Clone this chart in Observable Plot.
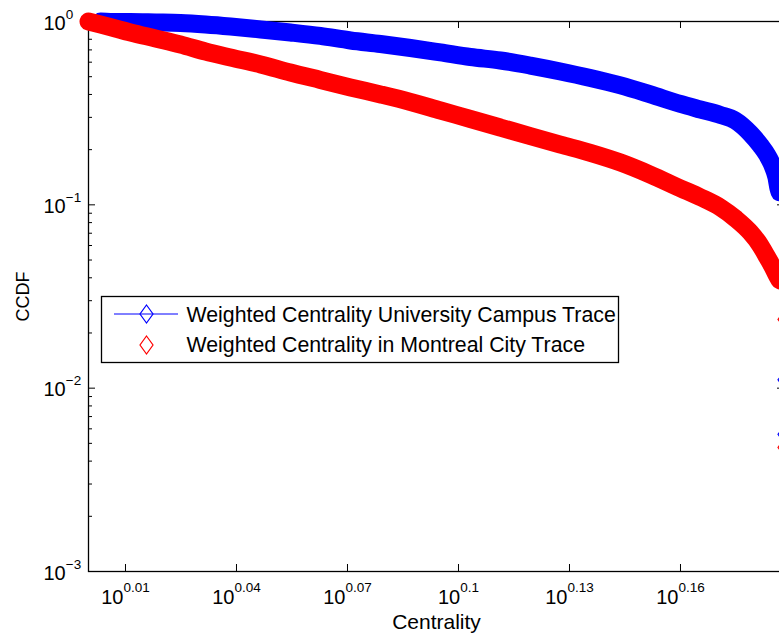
<!DOCTYPE html>
<html><head><meta charset="utf-8">
<script src="https://cdn.jsdelivr.net/npm/d3@7"></script>
<script src="https://cdn.jsdelivr.net/npm/@observablehq/plot@0.6"></script>
<style>
html,body{margin:0;padding:0;background:#fff;overflow:hidden;}
#chart{position:relative;width:779px;height:637px;overflow:hidden;}
#chart svg{max-width:none !important;}
</style></head><body><div id="chart"></div>
<script>
// Weighted Centrality – University Campus Trace (blue, line + diamonds)
const campusCentrality = [1.0075,1.0138,1.0265,1.0426,1.0589,1.0755,1.0924,1.1131,1.1339,1.1552,1.1771,1.1993,1.2219,1.2449,1.2683,1.2922,1.3165,1.3414,1.3666,1.3925,1.4187,1.4454,1.4635,1.4818,1.4957,1.5097,1.5192,1.5258,1.5306,1.5344,1.5363,1.5375];
const campusCCDF       = [1.0,0.994,0.994,0.988,0.981,0.963,0.939,0.905,0.871,0.834,0.788,0.754,0.717,0.678,0.640,0.613,0.575,0.534,0.492,0.448,0.400,0.355,0.331,0.309,0.288,0.245,0.211,0.186,0.164,0.141,0.123,0.117];
const campusTailCentrality = [1.5421, 1.5421];
const campusTailCCDF       = [0.0111, 0.0056];
// Weighted Centrality in Montreal City Trace (red, diamonds)
const montrealCentrality = [1.0,1.0075,1.0169,1.0265,1.0426,1.0589,1.0755,1.0924,1.1131,1.1339,1.1552,1.1771,1.1993,1.2219,1.2449,1.2683,1.2922,1.3165,1.3414,1.3666,1.3925,1.4187,1.4454,1.4635,1.4818,1.4957,1.5097,1.5192,1.5258,1.5306,1.5344,1.5375];
const montrealCCDF       = [1.0,0.963,0.916,0.871,0.808,0.749,0.686,0.636,0.583,0.527,0.480,0.437,0.400,0.364,0.327,0.294,0.264,0.237,0.213,0.192,0.170,0.146,0.123,0.110,0.0967,0.0842,0.0707,0.0600,0.0516,0.0461,0.0417,0.0387];
const montrealTailCentrality = [1.5421, 1.5421];
const montrealTailCCDF       = [0.0237, 0.00475];

const seriesNames = ["Weighted Centrality University Campus Trace", "Weighted Centrality in Montreal City Trace"];
const seriesColors = ["#0000ff", "#ff0000"];

// axis ticks
const xTickExponents = ["0.01","0.04","0.07","0.1","0.13","0.16"];
const yTickPowers = [0, -1, -2, -3];
const yMinorTicks = [0.002,0.003,0.004,0.005,0.006,0.007,0.008,0.009,0.02,0.03,0.04,0.05,0.06,0.07,0.08,0.09,0.2,0.3,0.4,0.5,0.6,0.7,0.8,0.9];
const xDomain = [1, 1.5421];
const yDomain = [0.001, 1];

const toRows = (xs, ys) => xs.map((x, i) => ({x, y: ys[i]}));
const campus = toRows(campusCentrality, campusCCDF);
const campusTail = toRows(campusTailCentrality, campusTailCCDF);
const montreal = toRows(montrealCentrality, montrealCCDF);
const montrealTail = toRows(montrealTailCentrality, montrealTailCCDF);

const diamond = {draw(ctx, size) {
  const r = Math.sqrt(size / Math.PI), w = r * 0.72;
  ctx.moveTo(0, -r); ctx.lineTo(w, 0); ctx.lineTo(0, r); ctx.lineTo(-w, 0); ctx.closePath();
}};

const xTickValues = xTickExponents.map(e => 10 ** (+e));
const yTickValues = yTickPowers.map(p => 10 ** p);
const FONT = "'Liberation Sans', Arial, Helvetica, sans-serif";
const FW = 696, FH = 550;

const chart = Plot.plot({
  width: 800, height: 637,
  marginLeft: 88, marginRight: 16, marginTop: 21, marginBottom: 66,
  x: {type: "log", domain: xDomain, axis: null},
  y: {type: "log", domain: yDomain, axis: null},
  style: {fontFamily: FONT, background: "white", color: "black", maxWidth: "none"},
  marks: [
    Plot.frame({stroke: "black", strokeWidth: 1.3}),
    Plot.tickX(xTickValues, {x: d => d, insetTop: FH - 7, stroke: "black", strokeWidth: 1}),
    Plot.tickX(xTickValues, {x: d => d, insetBottom: FH - 7, stroke: "black", strokeWidth: 1}),
    Plot.tickY(yTickValues, {y: d => d, insetRight: FW - 7, stroke: "black", strokeWidth: 1}),
    Plot.tickY(yTickValues, {y: d => d, insetLeft: FW - 7, stroke: "black", strokeWidth: 1}),
    Plot.tickY(yMinorTicks, {y: d => d, insetRight: FW - 4, stroke: "black", strokeWidth: 1}),
    Plot.tickY(yMinorTicks, {y: d => d, insetLeft: FW - 4, stroke: "black", strokeWidth: 1}),
    // campus series
    Plot.line(campus, {x: "x", y: "y", stroke: seriesColors[0], strokeWidth: 18, strokeLinejoin: "round", strokeLinecap: "round", curve: "monotone-x"}),
    Plot.dot(campus, {x: "x", y: "y", symbol: diamond, r: 8.6, fill: seriesColors[0], stroke: "none"}),
    Plot.line([campus[campus.length - 1], ...campusTail], {x: "x", y: "y", stroke: seriesColors[0], strokeWidth: 1}),
    Plot.dot(campusTail, {x: "x", y: "y", symbol: diamond, r: 9, fill: "none", stroke: seriesColors[0], strokeWidth: 1.2}),
    // montreal series
    Plot.line(montreal, {x: "x", y: "y", stroke: seriesColors[1], strokeWidth: 18, strokeLinejoin: "round", strokeLinecap: "round", curve: "monotone-x"}),
    Plot.dot(montreal, {x: "x", y: "y", symbol: diamond, r: 8.6, fill: seriesColors[1], stroke: "none"}),
    Plot.dot(montrealTail, {x: "x", y: "y", symbol: diamond, r: 9, fill: "none", stroke: seriesColors[1], strokeWidth: 1.2}),
    // tick labels
    Plot.text(xTickExponents, {x: d => 10 ** (+d), text: () => "10", frameAnchor: "bottom", textAnchor: "middle", lineAnchor: "bottom", dy: 32, fontSize: 20, fill: "black", ariaLabel: () => "xlab"}),
    Plot.text(yTickPowers, {y: d => 10 ** d, text: () => "10", frameAnchor: "left", textAnchor: "start", lineAnchor: "bottom", dx: -45, dy: 8, fontSize: 20, fill: "black", ariaLabel: () => "ylab"}),
    // axis labels
    Plot.text(["Centrality"], {text: d => d, frameAnchor: "bottom", textAnchor: "middle", lineAnchor: "bottom", dy: 57, fontSize: 21, fill: "black"}),
    Plot.text(["CCDF"], {text: d => d, frameAnchor: "left", textAnchor: "middle", lineAnchor: "middle", rotate: -90, dx: -65, fontSize: 18, fill: "black"})
  ]
});
chart.style.maxWidth = "none";

const NS = "http://www.w3.org/2000/svg";
chart.querySelectorAll('text[aria-label="xlab"]').forEach((t, i) => {
  const ts = document.createElementNS(NS, "tspan");
  ts.setAttribute("dy", -12); ts.setAttribute("font-size", 13.5);
  ts.textContent = xTickExponents[i];
  t.appendChild(ts);
});
chart.querySelectorAll('text[aria-label="ylab"]').forEach((t, i) => {
  const ts = document.createElementNS(NS, "tspan");
  ts.setAttribute("dy", -11); ts.setAttribute("font-size", 13.5);
  ts.textContent = yTickPowers[i] === 0 ? "0" : "\u2212" + Math.abs(yTickPowers[i]);
  t.appendChild(ts);
});

// legend
const svg = d3.select(chart);
const lg = svg.append("g").attr("font-family", FONT).attr("font-size", 21.3).attr("text-anchor", "start");
lg.append("rect").attr("x", 101.5).attr("y", 296.5).attr("width", 517).attr("height", 66)
  .attr("fill", "white").attr("stroke", "black").attr("stroke-width", 1.3);
const dpath = (cx, cy) => `M${cx},${cy - 9}L${cx + 6.5},${cy}L${cx},${cy + 9}L${cx - 6.5},${cy}Z`;
lg.append("line").attr("x1", 114).attr("x2", 178).attr("y1", 314).attr("y2", 314).attr("stroke", seriesColors[0]).attr("stroke-width", 1);
lg.append("path").attr("d", dpath(146.5, 314)).attr("fill", "none").attr("stroke", seriesColors[0]).attr("stroke-width", 1.2);
lg.append("path").attr("d", dpath(146.5, 345)).attr("fill", "none").attr("stroke", seriesColors[1]).attr("stroke-width", 1.2);
lg.append("text").attr("x", 186.5).attr("y", 322).attr("fill", "black").text(seriesNames[0]);
lg.append("text").attr("x", 186.5).attr("y", 352).attr("fill", "black").text(seriesNames[1]);

document.getElementById("chart").appendChild(chart);
</script></body></html>
